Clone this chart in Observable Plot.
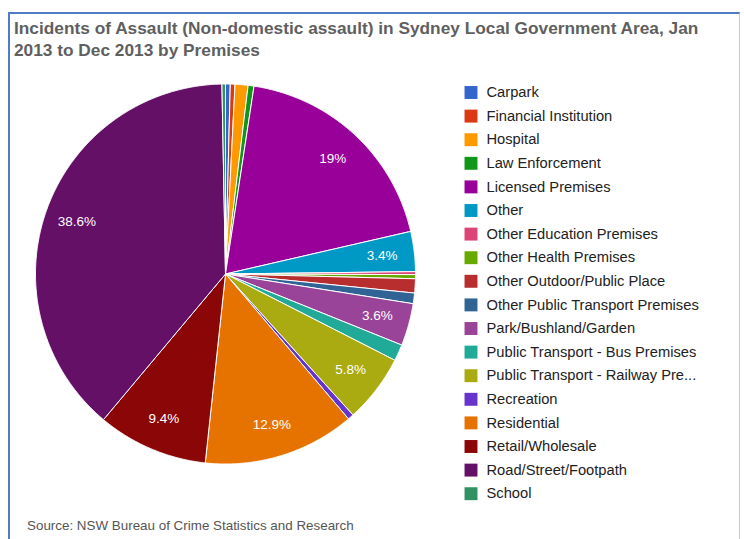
<!DOCTYPE html>
<html>
<head>
<meta charset="utf-8">
<script src="https://cdn.jsdelivr.net/npm/d3@7"></script>
<script src="https://cdn.jsdelivr.net/npm/@observablehq/plot@0.6"></script>
<style>
  html, body { margin: 0; padding: 0; background: #fff; }
  body { width: 744px; height: 539px; position: relative; overflow: hidden; font-family: "Liberation Sans", Arial, sans-serif; }
  #frame { position: absolute; left: 8px; top: 12px; width: 732px; height: 540px;
           border-left: 2px solid #4f7cc3; border-top: 2px solid #4f7cc3; border-right: 1px solid #c9c9c9; box-sizing: border-box; }
  #title { position: absolute; left: 14px; top: 17px; font-weight: bold; font-size: 17.3px; line-height: 22px; color: #5f5f5f; white-space: nowrap; }
  #source { position: absolute; left: 27px; top: 518px; font-size: 13.4px; color: #555; white-space: nowrap; }
  #pie, #legend { position: absolute; }
  #pie { left: 0; top: 0; }
  #legend { left: 455px; top: 80px; }
</style>
</head>
<body>
<div id="frame"></div>
<div id="title">Incidents of Assault (Non-domestic assault) in Sydney Local Government Area, Jan<br>2013 to Dec 2013 by Premises</div>
<div id="pie"></div>
<div id="legend"></div>
<div id="source">Source: NSW Bureau of Crime Statistics and Research</div>
<script>
const names = [
  "Carpark", "Financial Institution", "Hospital", "Law Enforcement", "Licensed Premises",
  "Other", "Other Education Premises", "Other Health Premises", "Other Outdoor/Public Place",
  "Other Public Transport Premises", "Park/Bushland/Garden", "Public Transport - Bus Premises",
  "Public Transport - Railway Premises", "Recreation", "Residential", "Retail/Wholesale",
  "Road/Street/Footpath", "School"
];
const legendLabels = [
  "Carpark", "Financial Institution", "Hospital", "Law Enforcement", "Licensed Premises",
  "Other", "Other Education Premises", "Other Health Premises", "Other Outdoor/Public Place",
  "Other Public Transport Premises", "Park/Bushland/Garden", "Public Transport - Bus Premises",
  "Public Transport - Railway Pre...", "Recreation", "Residential", "Retail/Wholesale",
  "Road/Street/Footpath", "School"
];
// percent share of incidents (labelled ones, small ones estimated)
const values = [0.4, 0.4, 1.1, 0.5, 19, 3.4, 0.25, 0.35, 1.2, 0.9, 3.6, 1.4, 5.8, 0.5, 12.9, 9.4, 38.6, 0.3];
const colors = [
  "#3366cc", "#dc3912", "#ff9900", "#109618", "#990099", "#0099c6", "#dd4477", "#66aa00",
  "#b82e2e", "#316395", "#994499", "#22aa99", "#aaaa11", "#6633cc", "#e67300", "#8b0707",
  "#651067", "#329262"
];

const font = '"Liberation Sans", Arial, sans-serif';
const data = names.map((name, i) => ({name, value: values[i]}));
const arcs = d3.pie().sort(null).value(d => d.value)(data);

// polygon points per slice (unit circle, 0 rad at 12 o'clock, clockwise)
const pts = [];
for (const a of arcs) {
  const name = a.data.name;
  pts.push({name, x: 0, y: 0});
  const n = Math.max(2, Math.ceil((a.endAngle - a.startAngle) / 0.005));
  for (let k = 0; k <= n; k++) {
    const t = a.startAngle + (a.endAngle - a.startAngle) * k / n;
    pts.push({name, x: Math.sin(t), y: Math.cos(t)});
  }
  pts.push({name, x: 0, y: 0});
}
const labelR = 0.83;
const labels = arcs.filter(a => a.data.value >= 3).map(a => {
  const m = (a.startAngle + a.endAngle) / 2;
  return {x: labelR * Math.sin(m), y: labelR * Math.cos(m), text: `${a.data.value}%`};
});

const cx = 225, cy = 273.5, r = 190;
const colorScale = {type: "ordinal", domain: names, range: colors};

const pie = Plot.plot({
  width: 450, height: 539,
  margin: 0,
  style: {background: "transparent", overflow: "visible"},
  x: {domain: [-1, 1], range: [cx - r, cx + r], axis: null},
  y: {domain: [-1, 1], range: [cy + r, cy - r], axis: null},
  color: colorScale,
  marks: [
    Plot.line(pts, {x: "x", y: "y", z: "name", fill: "name", stroke: "white", strokeWidth: 1, strokeLinejoin: "round", curve: "linear"}),
    Plot.text(labels, {x: "x", y: "y", text: "text", fill: "white", fontSize: 13.5, fontFamily: font})
  ]
});
document.getElementById("pie").append(pie);

const legendData = names.map((name, i) => ({name, label: legendLabels[i], index: i}));
const legend = Plot.plot({
  width: 285, height: 430,
  margin: 0,
  style: {background: "transparent", overflow: "visible"},
  y: {type: "linear", domain: [0, names.length - 1], range: [12, 12 + 17 * 23.6], axis: null},
  color: colorScale,
  marks: [
    Plot.dot(legendData, {y: "index", fill: "name", symbol: "square", r: 7.3, frameAnchor: "left", dx: 15.5}),
    Plot.text(legendData, {y: "index", text: "label", frameAnchor: "left", dx: 31, textAnchor: "start", fontSize: 14.7, fill: "#222", fontFamily: font})
  ]
});
document.getElementById("legend").append(legend);
</script>
</body>
</html>
